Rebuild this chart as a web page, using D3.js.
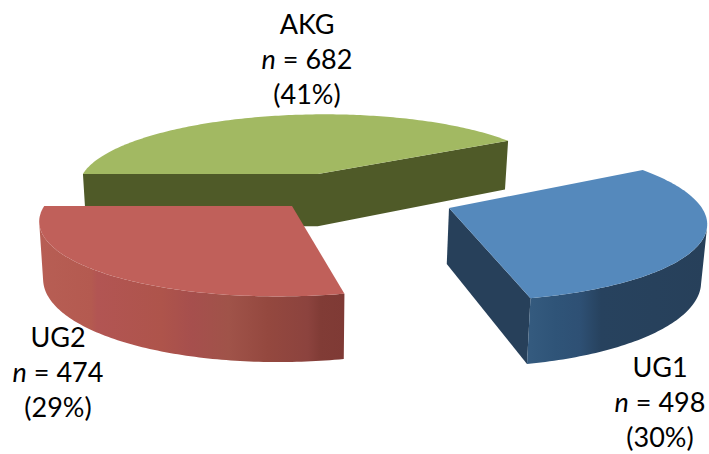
<!DOCTYPE html>
<html><head><meta charset="utf-8">
<script src="https://cdn.jsdelivr.net/npm/d3@7"></script>
<style>html,body{margin:0;background:#fff}svg{display:block}text{font-family:Lato,sans-serif;fill:#000}</style>
</head><body><svg id="c" width="709" height="454"></svg>
<script>
const categories=["UG1","UG2","AKG"];
const counts=[498,474,682];
const percents=["30%","29%","41%"];
const topColors=["#5589BC","#C0605A","#A2B962"];
const sideColors=["#27405A","#7F3A35","#4F5A28"];
const wallStops=[
 [[0,"#345A7E"],[.14,"#2F5478"],[.28,"#2E5074"],[.4,"#27425E"],[1,"#27405A"]],
 [[0,"#B75E54"],[.17,"#B45A50"],[.19,"#B25553"],[.4,"#AE544B"],[.5,"#A64F4D"],[.62,"#A05349"],[.75,"#94483F"],[.88,"#8C433E"],[.92,"#813C36"],[1,"#7F3A35"]],
 [[0,"#4F5A28"],[1,"#4F5A28"]]
];
const apexes=[[449,208],[292,206],[318,174]];
const radii=[244,240,243];
const labelPos=[[660,377],[58,347],[307,34]];
const firstAngle=58.5*Math.PI/180, H=54, cx=370, cy=190, K=.3, D=1640, lineGap=35, taper=.985, taperCx=300;

const svg=d3.select("#c"), defs=svg.append("defs");
const project=(X,Y,z=0)=>{const s=D/(D-Y);const x=cx+X*s;
  return [z?taperCx+(x-taperCx)*taper:x, cy+Y*K*s+z*s];};
const unproject=([sx,sy])=>{const u=(sy-cy)/K,Y=u*D/(D+u),s=D/(D-Y);return [(sx-cx)/s,Y];};
const cross=(a,b,h)=>(b[0]-a[0])*(h[1]-a[1])-(b[1]-a[1])*(h[0]-a[0]);

const arcs=d3.pie().sort(null).startAngle(firstAngle).endAngle(firstAngle+2*Math.PI)(counts);
const line=d3.line();
const slices=arcs.map((a,i)=>{
  const [ax,ay]=unproject(apexes[i]);
  const n=Math.ceil((a.endAngle-a.startAngle)*60);
  const pts=d3.range(n+1).map(j=>{const t=a.startAngle+(a.endAngle-a.startAngle)*j/n;
    return [ax+radii[i]*Math.sin(t),ay-radii[i]*Math.cos(t)];});
  return {i,ax,ay,pts};
});
const drawOrder=[2,0,1];
drawOrder.forEach(i=>{
  const s=slices[i];
  const top=s.pts.map(p=>project(p[0],p[1]));
  const bot=s.pts.map(p=>project(p[0],p[1],H));
  const A=project(s.ax,s.ay), Ab=project(s.ax,s.ay,H);
  const first=top[0], last=top[top.length-1];
  const g=svg.append("g");
  // radial walls, drawn only when they face the viewer
  let radial="";
  if(cross(A,first,Ab)<0) radial+=line([A,first,bot[0],Ab])+"Z";
  if(cross(last,A,[last[0],last[1]+H])<0) radial+=line([last,A,Ab,bot[bot.length-1]])+"Z";
  if(radial) g.append("path").attr("d",radial).attr("fill",sideColors[i]);
  // outer wall: the viewer-facing strips only
  const strips=[]; const xs=[];
  for(let j=0;j<top.length-1;j++){
    const [a,b,c,d]=[top[j],top[j+1],bot[j+1],bot[j]];
    if(cross(a,b,d)<0){strips.push(line([a,b,c,d])+"Z");xs.push(a[0],b[0]);}
  }
  if(strips.length){
    const id="w"+i;
    const lg=defs.append("linearGradient").attr("id",id).attr("gradientUnits","userSpaceOnUse")
      .attr("x1",d3.min(xs)).attr("x2",d3.max(xs)).attr("y1",0).attr("y2",0);
    wallStops[i].forEach(d=>lg.append("stop").attr("offset",d[0]).attr("stop-color",d[1]));
    g.append("path").attr("d",strips.join("")).attr("fill",`url(#${id})`);
  }
  // top
  g.append("path").attr("d",line([A,...top])+"Z").attr("fill",topColors[i]);
});
categories.forEach((c,i)=>{
  const [x,y]=labelPos[i];
  const t=svg.append("g").attr("text-anchor","middle").attr("font-size",27);
  t.append("text").attr("x",x).attr("y",y).text(c);
  const m=t.append("text").attr("x",x).attr("y",y+lineGap);
  m.append("tspan").attr("font-style","italic").text("n");
  m.append("tspan").text(" = "+counts[i]);
  t.append("text").attr("x",x).attr("y",y+2*lineGap).text("("+percents[i]+")");
});
</script></body></html>
